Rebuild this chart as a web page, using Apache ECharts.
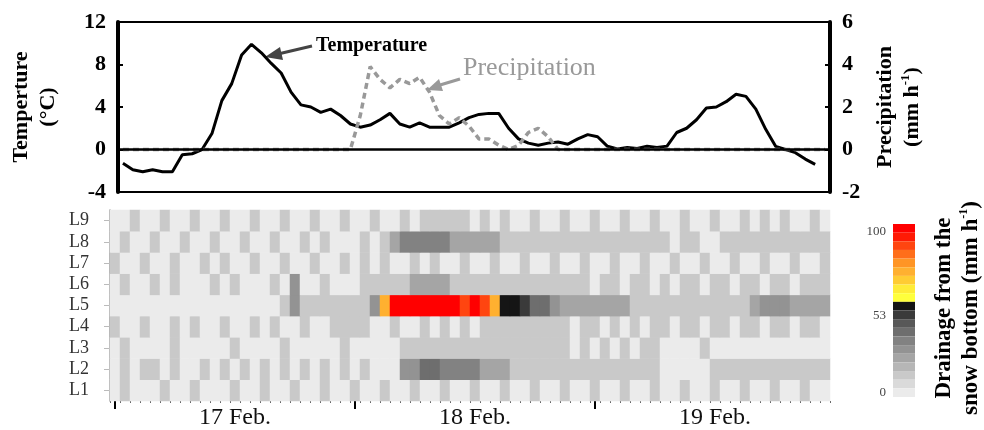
<!DOCTYPE html>
<html><head><meta charset="utf-8">
<script src="https://cdn.jsdelivr.net/npm/echarts@6/dist/echarts.min.js"></script>
<style>html,body{margin:0;padding:0;background:#fff}#c{width:984px;height:430px}</style>
</head><body><div id="c"></div><script>
// ---- data ----
const days = ['17', '18', '19'];
const dayLabels = ['17 Feb.', '18 Feb.', '19 Feb.'];
const hours = [];
days.forEach(d => { for (let h = 0; h < 24; h++) hours.push(d + ' ' + h + ':00'); });

const temperature = [
  -1.3,-1.9,-2.1,-1.9,-2.1,-2.1,-0.5,-0.4,0.0,1.5,4.6,6.2,
  8.9,9.9,9.1,8.1,7.2,5.4,4.2,4.0,3.5,3.8,3.2,2.4,
  2.1,2.3,2.8,3.4,2.4,2.1,2.5,2.1,2.1,2.1,2.5,3.0,
  3.3,3.4,3.4,2.0,1.0,0.6,0.4,0.6,0.7,0.5,1.0,1.4,
  1.2,0.3,0.05,0.2,0.1,0.3,0.2,0.3,1.6,2.0,2.8,3.9,
  4.0,4.5,5.2,5.0,3.8,1.9,0.3,0.0,-0.3,-0.9,-1.4
];
const precipitation = [
  0,0,0,0,0,0,0,0,0,0,0,0,
  0,0,0,0,0,0,0,0,0,0,0,0,
  1.6,3.9,3.3,2.9,3.3,3.1,3.4,2.7,1.6,1.2,1.5,1.1,
  0.5,0.5,0.2,0,0.2,0.8,1.0,0.6,0,0,0,0,
  0,0,0,0,0,0,0,0,0,0,0,0,
  0,0,0,0,0,0,0,0,0,0,0,0
];
const layers = ['L1','L2','L3','L4','L5','L6','L7','L8','L9'];
const L9 = [2,2,12,2,2,12,2,2,12,2,2,12, 2,2,12,2,2,12,2,2,12,2,2,12, 2,2,12,2,2,12,2,12,12,12,12,12, 2,12,2,12,2,2,12,2,2,12,2,2, 12,2,2,12,2,2,12,2,2,12,2,2, 12,2,2,12,2,12,2,12,2,2,12,2];
const L8 = [2,12,2,2,12,2,2,12,2,2,12,2, 2,12,2,2,12,2,2,12,2,12,2,2, 2,12,2,12,22,30,30,30,30,30,22,22, 22,22,22,12,12,12,12,12,12,12,12,12, 12,12,12,12,12,12,12,12,2,12,12,2, 2,12,12,12,12,12,12,12,12,12,12,12];
const L7 = [12,2,2,12,2,2,12,2,2,12,2,12, 2,2,12,2,2,12,2,2,12,2,2,12, 2,12,2,12,2,2,12,2,12,2,2,12, 2,2,12,2,2,12,2,2,12,2,2,12, 2,2,12,2,2,12,2,2,12,2,2,12, 2,2,12,2,2,12,2,2,12,2,2,12];
const L6 = [2,12,2,2,12,2,12,2,2,2,12,2, 12,2,2,2,12,2,26,2,2,12,2,2, 2,12,12,12,12,12,22,22,22,22,12,12, 12,12,12,12,12,12,12,12,12,12,12,12, 2,12,12,2,12,12,2,12,2,12,12,2, 12,12,2,12,12,2,12,12,2,12,12,12];
const L5 = [2,2,2,2,2,2,2,2,2,2,2,2, 2,2,2,2,2,12,26,12,12,12,12,12, 12,12,26,71,98,98,98,98,98,98,98,88, 98,88,71,51,51,46,36,36,26,22,22,22, 22,22,22,22,12,12,12,12,12,12,12,12, 12,12,12,12,22,26,26,26,22,22,22,22];
const L4 = [12,2,2,12,2,2,12,2,12,2,2,12, 2,2,12,2,12,2,2,12,2,2,12,12, 12,12,2,2,12,2,2,12,2,12,2,12, 2,12,12,12,12,12,12,12,12,12,2,12, 12,2,12,2,12,2,12,12,2,12,12,2, 12,12,2,12,12,2,12,12,2,12,12,2];
const L3 = [2,12,2,2,2,2,12,2,2,2,2,2, 12,2,2,2,2,12,2,2,2,2,2,12, 2,2,2,2,2,12,12,12,12,12,12,12, 12,12,12,12,12,12,12,12,12,12,2,12, 2,12,2,12,2,12,12,2,2,2,2,12, 2,2,2,2,2,2,2,2,2,2,2,2];
const L2 = [2,12,2,12,12,2,12,2,2,12,2,12, 2,12,2,12,2,12,2,12,2,12,2,12, 2,12,2,2,2,26,26,36,36,30,30,30, 30,22,22,22,12,12,12,12,12,12,12,12, 12,12,12,12,12,12,12,2,2,2,2,2, 12,12,12,12,12,12,12,12,12,12,12,12];
const L1 = [2,12,2,2,2,12,2,2,12,2,2,2, 12,2,2,12,2,2,12,2,2,12,2,2, 12,2,2,12,2,2,12,2,2,12,2,2, 12,2,2,12,2,2,12,2,2,12,2,2, 12,2,2,12,2,2,12,2,2,12,2,2, 12,2,2,12,2,2,12,2,2,12,2,2];
const drainageRows = [L1,L2,L3,L4,L5,L6,L7,L8,L9];

// colour scale of the drainage legend (0 -> 53 grey, 53 -> 100 yellow to red)
const greyColors = ['#ebebeb','#dadada','#c9c9c9','#b6b6b6','#a5a5a5','#939393','#828282','#6e6e6e','#585858','#3a3a3a','#151515'];
const hotColors = ['#ffff3c','#ffec38','#ffcc33','#ffb030','#ff9525','#ff6e1a','#ff4510','#ff1a05','#ff0000'];
const scaleMin = 0, scaleMid = 53, scaleMax = 100;
const scaleTicks = [0, 53, 100];

// ---- build ----
const heatData = [];
drainageRows.forEach((row, y) => row.forEach((v, x) => heatData.push([x, y, v])));
const pieces = [];
greyColors.forEach((c, i) => {
  const w = (scaleMid - scaleMin) / greyColors.length;
  pieces.push({min: scaleMin + i * w, max: scaleMin + (i + 1) * w, color: c});
});
hotColors.forEach((c, i) => {
  const w = (scaleMax - scaleMid) / hotColors.length;
  pieces.push({min: scaleMid + i * w, max: scaleMid + (i + 1) * w, color: c});
});

// legend bar geometry (pixels)
const barTop = 224, barItemH = 8.65, barRight = 69, barW = 22;
const barH = barItemH * pieces.length;
const barLeft = 984 - barRight - barW;
const tickTexts = scaleTicks.map(v => ({
  type: 'text', x: barLeft - 7, y: barTop + barH * (1 - (v - scaleMin) / (scaleMax - scaleMin)) + (v === scaleMax ? 8 : v === scaleMin ? -4 : 10),
  style: {text: String(v), font: '13px "Liberation Serif"', fill: '#444', align: 'right', verticalAlign: 'middle'}
}));

const serif = 'Liberation Serif';
const boldAxisLabel = {fontFamily: serif, fontWeight: 'bold', fontSize: 22, color: '#000'};
const supRich = {sup: {fontFamily: serif, fontWeight: 'bold', fontSize: 13, verticalAlign: 'top', lineHeight: 27}};

const chart = echarts.init(document.getElementById('c'), null, {renderer: 'canvas'});
chart.setOption({
  animation: false,
  backgroundColor: '#fff',
  grid: [
    {left: 111, top: 22, width: 719, height: 170, show: true, borderColor: '#000', borderWidth: 2, backgroundColor: 'transparent'},
    {left: 110, top: 210, width: 720, height: 191}
  ],
  xAxis: [
    {type: 'category', gridIndex: 0, data: hours, boundaryGap: true, axisLine: {show: false}, axisTick: {show: false}, axisLabel: {show: false}, splitLine: {show: false}},
    {type: 'category', gridIndex: 1, data: hours, position: 'bottom', boundaryGap: true,
      axisLine: {show: false},
      axisTick: {show: true, interval: 0, length: 2, lineStyle: {color: '#666', width: 1}},
      axisLabel: {interval: (i) => i % 24 === 12, formatter: (v, i) => dayLabels[Math.floor(i / 24)], fontFamily: serif, fontSize: 24, color: '#111', margin: 5},
      splitLine: {show: false}},
    {type: 'category', gridIndex: 1, data: hours, position: 'bottom', boundaryGap: true,
      axisLine: {show: false},
      axisTick: {show: true, alignWithLabel: true, interval: (i) => i % 24 === 0, length: 8, lineStyle: {color: '#000', width: 2}},
      axisLabel: {show: false}, splitLine: {show: false}}
  ],
  yAxis: [
    {type: 'value', gridIndex: 0, min: -4, max: 12, interval: 4, position: 'left',
      axisLine: {show: true, onZero: false, lineStyle: {color: '#000', width: 4}},
      axisTick: {show: true, inside: true, length: 5, lineStyle: {color: '#000', width: 2}},
      axisLabel: Object.assign({margin: 12}, boldAxisLabel),
      splitLine: {show: false},
      name: 'Temperture\n(°C)', nameLocation: 'middle', nameRotate: 90, nameGap: 56,
      nameTextStyle: {fontFamily: serif, fontWeight: 'bold', fontSize: 22, color: '#000', lineHeight: 27}},
    {type: 'value', gridIndex: 0, min: -2, max: 6, interval: 2, position: 'right',
      axisLine: {show: true, onZero: false, lineStyle: {color: '#000', width: 4}},
      axisTick: {show: true, inside: true, length: 5, lineStyle: {color: '#000', width: 2}},
      axisLabel: Object.assign({margin: 12}, boldAxisLabel),
      splitLine: {show: false},
      name: 'Precipitation\n(mm h{sup|-1})', nameLocation: 'middle', nameRotate: 90, nameGap: 42,
      nameTextStyle: {fontFamily: serif, fontWeight: 'bold', fontSize: 22, color: '#000', lineHeight: 27, rich: supRich}},
    {type: 'category', gridIndex: 1, data: layers, boundaryGap: true,
      axisLine: {show: true, lineStyle: {color: '#999', width: 1.5}},
      axisTick: {show: true, alignWithLabel: true, interval: 0, length: 6, lineStyle: {color: '#bbb', width: 1}},
      axisLabel: {interval: 0, fontFamily: serif, fontSize: 18, color: '#333', margin: 21},
      splitLine: {show: false}}
  ],
  visualMap: {
    type: 'piecewise', seriesIndex: 2, orient: 'vertical', right: barRight, top: barTop,
    itemWidth: barW, itemHeight: barItemH, itemGap: 0, itemSymbol: 'rect', showLabel: false,
    padding: 0, selectedMode: false, hoverLink: false, pieces: pieces
  },
  graphic: tickTexts.concat([
    {type: 'text', x: 316, y: 46, style: {text: 'Temperature', font: 'bold 20px "Liberation Serif"', fill: '#000', verticalAlign: 'middle'}},
    {type: 'line', shape: {x1: 312, y1: 46, x2: 278, y2: 54}, style: {stroke: '#444', lineWidth: 3}},
    {type: 'polygon', shape: {points: [[265, 57], [280, 47], [283, 60]]}, style: {fill: '#444'}},
    {type: 'text', x: 463, y: 68, style: {text: 'Precipitation', font: '26px "Liberation Serif"', fill: '#999', verticalAlign: 'middle'}},
    {type: 'line', shape: {x1: 460, y1: 79, x2: 440, y2: 85}, style: {stroke: '#999', lineWidth: 3}},
    {type: 'polygon', shape: {points: [[427, 90], [439, 79], [443, 91]]}, style: {fill: '#999'}},
    {type: 'text', x: 958, y: 308, rotation: Math.PI / 2,
      style: {text: 'Drainage from the\nsnow bottom (mm h{sup|-1})', font: 'bold 23px "Liberation Serif"', fill: '#000',
        align: 'center', verticalAlign: 'middle', lineHeight: 27,
        rich: {sup: {font: 'bold 12px "Liberation Serif"', verticalAlign: 'top', lineHeight: 27}}}}
  ]),
  series: [
    {name: 'Temperature', type: 'line', xAxisIndex: 0, yAxisIndex: 0, data: temperature, symbol: 'none',
      lineStyle: {color: '#000', width: 3}, z: 3,
      markLine: {silent: true, symbol: 'none', label: {show: false}, lineStyle: {color: '#000', width: 2.5, type: 'solid'}, data: [{yAxis: 0}]}},
    {name: 'Precipitation', type: 'line', xAxisIndex: 0, yAxisIndex: 1, data: precipitation, symbol: 'none',
      lineStyle: {color: '#999', width: 3.5, type: [6, 4]}, z: 4},
    {name: 'Drainage', type: 'heatmap', xAxisIndex: 1, yAxisIndex: 2, data: heatData, itemStyle: {borderWidth: 0}}
  ]
});
</script></body></html>
